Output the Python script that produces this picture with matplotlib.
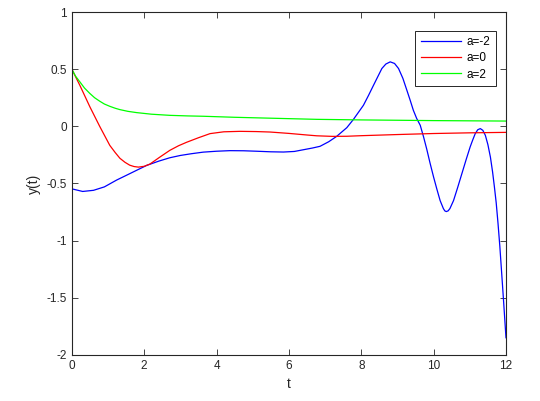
import matplotlib
matplotlib.use('Agg')
import matplotlib.pyplot as plt

# values
t_blue = [0, 0.3, 0.6, 0.9, 1.24, 1.5, 1.79, 2.07, 2.4, 2.71, 3.0, 3.3, 3.63, 4.0,
          4.37, 4.75, 5.11, 5.5, 5.85, 6.15, 6.4, 6.65, 6.86, 7.1, 7.32, 7.6,
          7.78, 8.06, 8.2, 8.34, 8.45, 8.57, 8.68, 8.8, 8.92, 9.03, 9.15, 9.26,
          9.35, 9.44, 9.53, 9.63, 9.72, 9.81, 9.9, 10.0, 10.09, 10.18, 10.27,
          10.31, 10.35, 10.4, 10.45, 10.55, 10.66, 10.78, 10.9, 11.01, 11.08,
          11.15, 11.22, 11.29, 11.36, 11.43, 11.5, 11.57, 11.63, 11.68, 11.73,
          11.78, 11.83, 11.88, 11.94, 12.0]
y_blue = [-0.547, -0.57, -0.56, -0.53, -0.47, -0.43, -0.385, -0.342, -0.305,
          -0.275, -0.255, -0.24, -0.226, -0.218, -0.213, -0.214, -0.218, -0.223,
          -0.225, -0.22, -0.205, -0.19, -0.175, -0.135, -0.088, -0.012, 0.059,
          0.184, 0.27, 0.36, 0.43, 0.506, 0.545, 0.564, 0.55, 0.506, 0.42, 0.316,
          0.23, 0.14, 0.07, 0.009, -0.09, -0.20, -0.32, -0.445, -0.55, -0.65,
          -0.72, -0.74, -0.746, -0.74, -0.72, -0.65, -0.54, -0.415, -0.29, -0.18,
          -0.12, -0.064, -0.03, -0.02, -0.035, -0.079, -0.16, -0.27, -0.40,
          -0.53, -0.67, -0.85, -1.05, -1.28, -1.56, -1.85]

t_red = [0, 0.22, 0.5, 0.77, 1.05, 1.2, 1.33, 1.47, 1.6, 1.72, 1.84, 2.0, 2.16,
         2.43, 2.71, 2.95, 3.17, 3.5, 3.82, 4.2, 4.65, 5.1, 5.48, 6.0, 6.5, 6.77,
         7.2, 7.6, 8.0, 9.0, 10.0, 11.0, 12.0]
y_red = [0.5, 0.36, 0.17, 0.0, -0.167, -0.23, -0.28, -0.315, -0.34, -0.352,
         -0.357, -0.35, -0.33, -0.27, -0.21, -0.17, -0.14, -0.10, -0.064,
         -0.048, -0.044, -0.046, -0.05, -0.062, -0.076, -0.083, -0.088, -0.087,
         -0.082, -0.072, -0.063, -0.057, -0.053]

t_green = [0, 0.1, 0.22, 0.35, 0.5, 0.63, 0.77, 0.9, 1.05, 1.2, 1.33, 1.55, 1.79,
           2.2, 2.71, 3.2, 3.63, 4.5, 5.5, 6.77, 8.0, 9.0, 10.0, 11.0, 12.0]
y_green = [0.5, 0.44, 0.39, 0.335, 0.287, 0.25, 0.22, 0.195, 0.175, 0.158, 0.146,
           0.131, 0.12, 0.106, 0.096, 0.091, 0.088, 0.079, 0.071, 0.061, 0.056,
           0.053, 0.050, 0.048, 0.046]

labels = ['a=-2', 'a=0', 'a=2']

plt.rcParams['font.family'] = ['Liberation Sans', 'DejaVu Sans']

fig = plt.figure(figsize=(5.4, 4.01), dpi=100)
ax = fig.add_axes([0.133, 0.115, 0.804, 0.855])

ax.plot(t_blue, y_blue, color=(0, 0, 1), lw=0.9, label=labels[0])
ax.plot(t_red, y_red, color=(1, 0, 0), lw=0.9, label=labels[1])
ax.plot(t_green, y_green, color=(0, 1, 0), lw=0.9, label=labels[2])

ax.set_xlim(0, 12)
ax.set_ylim(-2, 1)
ax.set_xticks(range(0, 13, 2))
ax.set_yticks([-2, -1.5, -1, -0.5, 0, 0.5, 1])
ax.set_yticklabels(['-2', '-1.5', '-1', '-0.5', '0', '0.5', '1'])
ax.tick_params(direction='in', top=True, right=True, labelsize=8.5,
               length=4, width=0.6, colors='#262626')
for s in ax.spines.values():
    s.set_linewidth(0.8)
    s.set_color('#262626')

ax.set_xlabel('t', fontsize=10, color='#262626')
ax.set_ylabel('y(t)', fontsize=10, color='#262626')

leg = ax.legend(loc='upper right', bbox_to_anchor=(0.99, 0.962), fontsize=8.5,
                fancybox=False, edgecolor='#262626', framealpha=1,
                handlelength=3.4, handletextpad=0.5, borderpad=0.45,
                labelspacing=0.35)
leg.get_frame().set_linewidth(0.7)

plt.savefig('out.png', dpi=100)
plt.close()
